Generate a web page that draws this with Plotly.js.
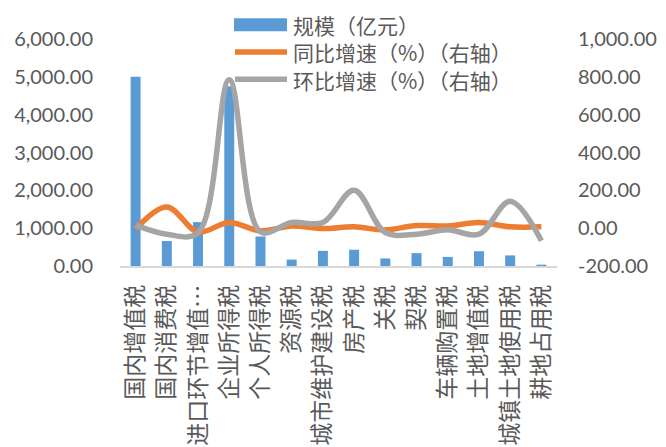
<!DOCTYPE html>
<html>
<head>
<meta charset="utf-8">
<script src="https://cdn.plot.ly/plotly-3.0.1.min.js"></script>
<style>
  html, body { margin: 0; padding: 0; background: #ffffff; }
  #chart { width: 666px; height: 447px; }
</style>
</head>
<body>
<div id="chart"></div>
<script>
// Tax categories
const categories = [
  '国内增值税', '国内消费税', '进口环节增值…', '企业所得税', '个人所得税',
  '资源税', '城市维护建设税', '房产税', '关税', '契税',
  '车辆购置税', '土地增值税', '城镇土地使用税', '耕地占用税'
];

// Series names
const seriesNames = ['规模（亿元）', '同比增速（%）（右轴）', '环比增速（%）（右轴）'];
const seriesColors = ['#5B9BD5', '#ED7D31', '#A5A5A5'];

// Revenue scale (亿元), left axis
const scaleValues = [5000, 660, 1160, 4750, 780, 170, 400, 430, 200, 340, 240, 390, 280, 35];

// Year-on-year growth (%), right axis
const yoyValues = [-5, 112, -20, 30, -14, 12, -2, 7, -9, 14, 12, 30, 7, 7];

// Month-on-month growth (%), right axis
const momValues = [16, -32, -25, 785, -20, 30, 30, 200, -23, -32, -9, -32, 142, -67];

// Axis tick labels
const leftTickVals = [0, 1000, 2000, 3000, 4000, 5000, 6000];
const leftTickText = ['0.00', '1,000.00', '2,000.00', '3,000.00', '4,000.00', '5,000.00', '6,000.00'];
const rightTickVals = [-200, 0, 200, 400, 600, 800, 1000];
const rightTickText = ['-200.00', '0.00', '200.00', '400.00', '600.00', '800.00', '1,000.00'];

const cjkFont = '"Noto Sans CJK SC", "Noto Sans", sans-serif';
const numFont = 'Lato, "Open Sans", sans-serif';
const textGray = '#595959';

const W = 666, H = 447;
const M = { l: 120, r: 109, t: 39, b: 181 };
const plotW = W - M.l - M.r;
const plotH = H - M.t - M.b;
// pixel -> paper coordinates (for the legend block)
const px = x => (x - M.l) / plotW;
const py = y => (H - M.b - y) / plotH;

const traces = [
  {
    type: 'bar',
    name: seriesNames[0],
    x: categories,
    y: scaleValues,
    yaxis: 'y',
    marker: { color: seriesColors[0] }
  },
  {
    type: 'scatter',
    mode: 'lines',
    name: seriesNames[1],
    x: categories,
    y: yoyValues,
    yaxis: 'y2',
    line: { color: seriesColors[1], width: 5.5, shape: 'spline', smoothing: 1 }
  },
  {
    type: 'scatter',
    mode: 'lines',
    name: seriesNames[2],
    x: categories,
    y: momValues,
    yaxis: 'y2',
    line: { color: seriesColors[2], width: 5.5, shape: 'spline', smoothing: 1 }
  }
];

// Legend block: wide swatches stacked at the top, overlapping the plot.
// Label font 21px -> Plotly multi-line spacing of 1.3em (~27px per row).
const legendFontSize = 21;
const rowGap = legendFontSize * 1.3;
const midRow = 52;
const legendRows = [midRow - rowGap, midRow, midRow + rowGap];
const shapes = [
  {
    type: 'rect', xref: 'paper', yref: 'paper', layer: 'above',
    x0: px(234), x1: px(287), y0: py(legendRows[0] + 6.5), y1: py(legendRows[0] - 6.5),
    fillcolor: seriesColors[0], line: { width: 0 }
  },
  {
    type: 'line', xref: 'paper', yref: 'paper', layer: 'above',
    x0: px(235), x1: px(287), y0: py(legendRows[1]), y1: py(legendRows[1]),
    line: { color: seriesColors[1], width: 5.5 }
  },
  {
    type: 'line', xref: 'paper', yref: 'paper', layer: 'above',
    x0: px(235), x1: px(287), y0: py(legendRows[2]), y1: py(legendRows[2]),
    line: { color: seriesColors[2], width: 5.5 }
  }
];
const annotations = [{
  text: seriesNames.join('<br>'),
  xref: 'paper', yref: 'paper',
  x: px(292), y: py(midRow),
  xanchor: 'left', yanchor: 'middle', align: 'left',
  showarrow: false, borderpad: 0,
  font: { family: cjkFont, size: legendFontSize, color: textGray }
}];

const layout = {
  width: W,
  height: H,
  margin: { l: M.l, r: M.r, t: M.t, b: M.b, pad: 0 },
  paper_bgcolor: '#ffffff',
  plot_bgcolor: '#ffffff',
  bargap: 0.68,
  showlegend: false,
  shapes: shapes,
  annotations: annotations,
  xaxis: {
    type: 'category',
    automargin: false,
    showgrid: false,
    zeroline: false,
    showline: true,
    linecolor: '#d9d9d9',
    linewidth: 1.5,
    ticks: '',
    tickangle: -90,
    ticklabelstandoff: 8,
    tickfont: { family: cjkFont, size: 23, color: textGray }
  },
  yaxis: {
    range: [0, 6000],
    automargin: false,
    showgrid: false,
    zeroline: false,
    showline: false,
    ticks: '',
    tickmode: 'array',
    tickvals: leftTickVals,
    ticktext: leftTickText,
    ticklabelstandoff: 26,
    tickfont: { family: numFont, size: 20, color: textGray }
  },
  yaxis2: {
    range: [-200, 1000],
    overlaying: 'y',
    side: 'right',
    automargin: false,
    showgrid: false,
    zeroline: false,
    showline: false,
    ticks: '',
    tickmode: 'array',
    tickvals: rightTickVals,
    ticktext: rightTickText,
    ticklabelstandoff: 20,
    tickfont: { family: numFont, size: 20, color: textGray }
  }
};

Plotly.newPlot('chart', traces, layout, { displayModeBar: false, staticPlot: true });
</script>
</body>
</html>
